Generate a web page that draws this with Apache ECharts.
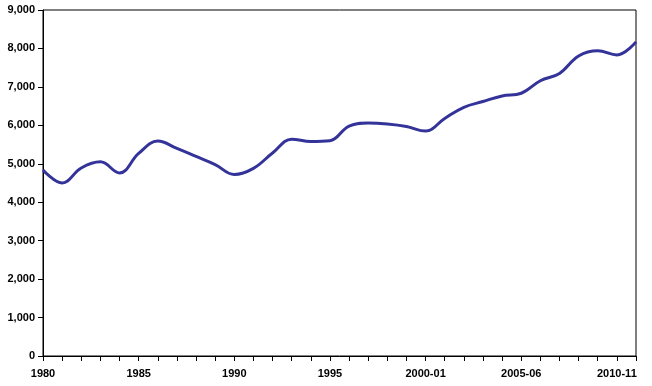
<!DOCTYPE html>
<html>
<head>
<meta charset="utf-8">
<script src="https://cdn.jsdelivr.net/npm/echarts@6/dist/echarts.min.js"></script>
<style>html,body{margin:0;padding:0;background:#fff}#c{width:652px;height:386px}</style>
</head>
<body>
<div id="c"></div>
<script>
const categories = ['1980','1981','1982','1983','1984','1985','1986','1987','1988','1989',
  '1990','1991','1992','1993','1994','1995','1996','1997','1998','1999',
  '2000-01','2001-02','2002-03','2003-04','2004-05','2005-06','2006-07','2007-08','2008-09','2009-10','2010-11','2011-12'];
const values = [4840,4500,4890,5050,4760,5270,5590,5400,5190,4980,
  4720,4880,5280,5640,5580,5600,5980,6060,6035,5970,
  5850,6180,6470,6620,6765,6835,7160,7350,7805,7940,7830,8170];
const yTicks = {min:0, max:9000, interval:1000};

const chart = echarts.init(document.getElementById('c'));
const font = {fontFamily:'"Liberation Sans", Arial, sans-serif', fontWeight:'bold', fontSize:11, color:'#000'};
chart.setOption({
  animation:false,
  grid:{left:43, right:16, top:10, bottom:30, show:true, borderColor:'#000', borderWidth:1, containLabel:false},
  xAxis:{type:'category', data:categories, boundaryGap:false,
    axisLine:{lineStyle:{color:'#000', width:1}},
    axisTick:{interval:0, length:5, lineStyle:{color:'#000'}},
    axisLabel:Object.assign({interval:4, margin:12}, font),
    splitLine:{show:false}},
  yAxis:{type:'value', min:yTicks.min, max:yTicks.max, interval:yTicks.interval,
    axisLine:{show:true, lineStyle:{color:'#000', width:1}},
    axisTick:{show:true, length:5, lineStyle:{color:'#000'}},
    axisLabel:Object.assign({margin:8, formatter:v=>v.toLocaleString('en-US')}, font),
    splitLine:{show:false}},
  series:[{type:'line', data:values, smooth:0.4, symbol:'none',
    lineStyle:{color:'#333399', width:3}}]
});
</script>
</body>
</html>
